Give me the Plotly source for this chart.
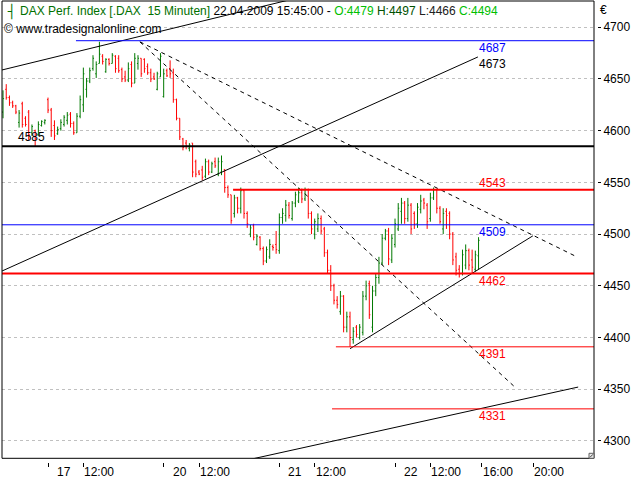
import plotly.graph_objects as go

# ---------------- data ----------------
# bar index 0 = first 15-minute bar of 17.04.2009 (36 bars per session)
bar_index = list(range(-14, 135))
opens = [4618, 4640, 4632, 4627, 4624, 4608, 4626, 4612, 4618, 4598, 4600, 4596, 4605, 4608,
         4630, 4620, 4605, 4597, 4602, 4606, 4610, 4616, 4607, 4598, 4614, 4625, 4640, 4648,
         4660, 4655, 4665, 4672, 4657, 4669, 4665, 4672, 4670, 4659, 4652, 4649, 4664, 4646,
         4665, 4670, 4669, 4662, 4656, 4652, 4640, 4652,
         4633, 4658, 4660, 4656, 4630, 4612, 4592, 4588, 4583, 4588, 4570, 4560, 4562, 4556,
         4570, 4560, 4570, 4558, 4560, 4562, 4545, 4538, 4520, 4535, 4525, 4542, 4520, 4500,
         4508, 4490, 4497, 4486, 4474, 4478, 4488, 4490,
         4484, 4516, 4518, 4528, 4515, 4530, 4532, 4540, 4534, 4543, 4520, 4500, 4505, 4515,
         4505, 4482, 4465, 4450, 4436, 4425, 4440, 4410, 4420, 4398, 4410, 4400, 4405, 4440,
         4452, 4410, 4445, 4458, 4472, 4496, 4503, 4475,
         4490, 4505, 4522, 4530, 4515, 4528, 4520, 4510, 4524, 4533, 4528, 4515, 4535, 4543,
         4525, 4505, 4522, 4520, 4500, 4478, 4466, 4462, 4470, 4484, 4475, 4466, 4479]
highs = [4639, 4645, 4634, 4629, 4625, 4620, 4628, 4614, 4620, 4606, 4601, 4609, 4610, 4611,
         4632, 4622, 4610, 4604, 4611, 4615, 4618, 4618, 4609, 4617, 4634, 4661, 4651, 4661,
         4673, 4667, 4686, 4674, 4670, 4670, 4675, 4673, 4673, 4661, 4658, 4666, 4667, 4675,
         4673, 4670, 4670, 4665, 4660, 4656, 4657, 4675,
         4660, 4660, 4668, 4660, 4631, 4612, 4593, 4591, 4588, 4588, 4572, 4562, 4566, 4573,
         4572, 4570, 4574, 4574, 4576, 4563, 4547, 4538, 4538, 4536, 4545, 4543, 4522, 4509,
         4510, 4500, 4498, 4488, 4488, 4495, 4490, 4503,
         4520, 4525, 4533, 4531, 4532, 4541, 4545, 4544, 4545, 4544, 4522, 4515, 4520, 4518,
         4507, 4485, 4470, 4452, 4440, 4445, 4441, 4425, 4425, 4410, 4412, 4413, 4445, 4455,
         4455, 4450, 4462, 4478, 4500, 4505, 4506, 4500,
         4515, 4530, 4535, 4532, 4535, 4530, 4522, 4530, 4538, 4535, 4530, 4540, 4545, 4544,
         4527, 4525, 4525, 4522, 4502, 4482, 4470, 4485, 4490, 4486, 4485, 4484, 4497]
lows = [4612, 4630, 4624, 4622, 4616, 4603, 4603, 4604, 4591, 4595, 4585, 4595, 4604, 4606,
        4617, 4594, 4591, 4596, 4600, 4604, 4606, 4603, 4596, 4598, 4612, 4618, 4632, 4646,
        4658, 4651, 4665, 4664, 4656, 4663, 4665, 4656, 4656, 4647, 4647, 4647, 4642, 4646,
        4659, 4652, 4656, 4654, 4647, 4649, 4639, 4652,
        4632, 4652, 4651, 4627, 4610, 4591, 4581, 4582, 4580, 4555, 4555, 4557, 4552, 4554,
        4557, 4559, 4564, 4556, 4557, 4540, 4535, 4510, 4516, 4520, 4520, 4515, 4506, 4497,
        4494, 4489, 4484, 4470, 4472, 4476, 4484, 4481,
        4481, 4510, 4512, 4515, 4513, 4526, 4530, 4530, 4532, 4515, 4500, 4495, 4502, 4500,
        4478, 4462, 4445, 4432, 4428, 4422, 4405, 4405, 4391, 4394, 4400, 4398, 4402, 4436,
        4418, 4405, 4440, 4452, 4470, 4494, 4470, 4472,
        4487, 4503, 4510, 4510, 4512, 4500, 4505, 4506, 4520, 4524, 4505, 4512, 4533, 4520,
        4510, 4500, 4505, 4495, 4470, 4460, 4458, 4460, 4466, 4465, 4462, 4464, 4466]
closes = [4631, 4632, 4627, 4624, 4618, 4617, 4606, 4606, 4596, 4604, 4592, 4606, 4609, 4610,
          4620, 4600, 4595, 4601, 4608, 4613, 4615, 4607, 4598, 4614, 4630, 4655, 4648, 4658,
          4670, 4664, 4674, 4667, 4669, 4665, 4673, 4660, 4658, 4650, 4649, 4660, 4646, 4670,
          4670, 4655, 4660, 4656, 4650, 4650, 4655, 4672,
          4655, 4653, 4655, 4630, 4612, 4594, 4584, 4585, 4586, 4560, 4558, 4558, 4555, 4570,
          4560, 4568, 4566, 4570, 4570, 4545, 4538, 4513, 4535, 4525, 4542, 4520, 4510, 4506,
          4497, 4498, 4486, 4474, 4485, 4490, 4487, 4485,
          4516, 4520, 4528, 4518, 4530, 4538, 4540, 4534, 4543, 4520, 4505, 4512, 4515, 4503,
          4482, 4465, 4450, 4436, 4432, 4440, 4410, 4420, 4400, 4406, 4403, 4410, 4440, 4450,
          4422, 4445, 4458, 4472, 4496, 4503, 4476, 4496,
          4510, 4525, 4530, 4515, 4528, 4505, 4510, 4526, 4532, 4530, 4512, 4535, 4543, 4525,
          4512, 4520, 4518, 4500, 4475, 4465, 4462, 4480, 4484, 4470, 4468, 4480, 4494]

# x-axis labels (bar index of tick, text)
day_ticks = [0, 36, 72, 108]
day_labels = ["17", "20", "21", "22"]
time_ticks = [11, 47, 83, 119, 135, 151]
time_labels = ["12:00", "12:00", "12:00", "12:00", "16:00", "20:00"]
price_ticks = [4300, 4350, 4400, 4450, 4500, 4550, 4600, 4650, 4700]

# horizontal levels: value, first bar index, colour, width
levels = [4687, 4585, 4543, 4509, 4462, 4391, 4331]
level_start = [8.7, -14.4, 57.6, -14.4, -14.4, 89.6, 88.4]
level_color = ["#0000ff", "#000000", "#ff0000", "#0000ff", "#ff0000", "#ff0000", "#ff0000"]
level_width = [1, 2, 2, 1, 2, 1, 1]
# labels next to the last bar: text, price, colour, vertical offset (px)
label_text = ["4687", "4673", "4543", "4509", "4462", "4391", "4331"]
label_price = [4687, 4671.3, 4543, 4509, 4462, 4391, 4331]
label_color = ["#0000ff", "#000000", "#ff0000", "#0000ff", "#ff0000", "#ff0000", "#ff0000"]
label_shift = [-7, -7, 7, -7, -8, -7, -7]

# trend lines: (bar index, price) pairs
trend_upper = ([-14.32, 75.0], [4658.7, 4726.4])
trend_rising = ([-14.32, 133.8], [4464.3, 4671.3])
trend_dash_a = ([28.6, 145.3], [4685.9, 4352.1])
trend_dash_b = ([28.6, 164.0], [4685.9, 4478.9])
trend_support = ([94.0, 150.9], [4389.2, 4498.3])
trend_bottom = ([50.0, 165.0], [4273.3, 4352.1])

# ---------------- figure ----------------
X_RANGE = [-14.32, 169.93]
Y_RANGE = [4283.2, 4725.4]
FONT = "Liberation Sans, Arial, sans-serif"

fig = go.Figure()

for (xs, ys), dash in [(trend_upper, "solid"), (trend_rising, "solid"), (trend_dash_a, "4px,4px"),
                       (trend_dash_b, "4px,4px"), (trend_support, "solid"), (trend_bottom, "solid")]:
    fig.add_trace(go.Scatter(x=xs, y=ys, mode="lines", line=dict(color="black", width=1, dash=dash),
                             hoverinfo="skip", showlegend=False))

for v, s, c, w in zip(levels, level_start, level_color, level_width):
    fig.add_trace(go.Scatter(x=[s, X_RANGE[1] + 1], y=[v, v], mode="lines",
                             line=dict(color=c, width=w), hoverinfo="skip", showlegend=False))

fig.add_trace(go.Ohlc(x=bar_index, open=opens, high=highs, low=lows, close=closes,
                      increasing=dict(line=dict(color="#007800", width=1)),
                      decreasing=dict(line=dict(color="#ff0000", width=1)),
                      tickwidth=0.32, showlegend=False))

annotations = []
for t, p, c, s in zip(label_text, label_price, label_color, label_shift):
    annotations.append(dict(x=bar_index[-1], y=p, xref="x", yref="y", text=t, showarrow=False,
                            xanchor="left", yanchor="middle", xshift=-2, yshift=s,
                            font=dict(family=FONT, size=12, color=c)))
annotations.append(dict(x=-9.3, y=4585, xref="x", yref="y", text="4585", showarrow=False,
                        xanchor="left", yanchor="middle", xshift=-2, yshift=9,
                        font=dict(family=FONT, size=12, color="#000000")))
for tv, tt in zip(day_ticks, day_labels):
    annotations.append(dict(x=tv, y=0, xref="x", yref="paper", text=tt, showarrow=False,
                            xanchor="left", yanchor="middle", xshift=7, yshift=-10,
                            font=dict(family=FONT, size=12, color="black")))
for tv, tt in zip(time_ticks, time_labels):
    annotations.append(dict(x=tv, y=0, xref="x", yref="paper", text=tt, showarrow=False,
                            xanchor="left", yanchor="middle", xshift=-1, yshift=-10,
                            font=dict(family=FONT, size=12, color="black")))

header = ("<span style='color:#007000'>DAX Perf. Index [.DAX\u00a0 15 Minuten]</span> "
          "22.04.2009 15:45:00 - "
          f"<span style='color:#00c000'>O:{opens[-1]}</span> "
          f"<span style='color:#005000'>H:{highs[-1]}</span> "
          f"<span style='color:#202020'>L:{lows[-1]}</span> "
          f"<span style='color:#00c000'>C:{closes[-1]}</span>")
annotations.append(dict(x=0, y=1, xref="paper", yref="paper", text=header, showarrow=False,
                        xanchor="left", yanchor="middle", xshift=16, yshift=-10,
                        font=dict(family=FONT, size=12, color="black")))
annotations.append(dict(x=0, y=1, xref="paper", yref="paper", text="┤", showarrow=False,
                        xanchor="left", yanchor="middle", xshift=3, yshift=-10,
                        font=dict(family="DejaVu Sans", size=13, color="#007000")))
annotations.append(dict(x=0, y=1, xref="paper", yref="paper", text="© www.tradesignalonline.com",
                        showarrow=False, xanchor="left", yanchor="middle", xshift=0, yshift=-28,
                        font=dict(family=FONT, size=12, color="black")))
annotations.append(dict(x=1, y=1, xref="paper", yref="paper", text="€", showarrow=False,
                        xanchor="left", yanchor="middle", xshift=1, yshift=-9,
                        font=dict(family=FONT, size=12, color="black")))

shapes = [
    dict(type="rect", xref="x domain", yref="y domain", x0=0, x1=1, y0=0, y1=1,
         line=dict(color="black", width=1), layer="above"),
    # small resize grip in the lower right corner of the plot frame
    dict(type="rect", xref="x domain", yref="y domain", xsizemode="pixel", ysizemode="pixel",
         xanchor=1, yanchor=0, x0=-5, x1=0, y0=0, y1=5,
         line=dict(color="#606060", width=1), fillcolor="#e8e8e8", layer="above"),
    dict(type="line", xref="x domain", yref="y domain", xsizemode="pixel", ysizemode="pixel",
         xanchor=1, yanchor=0, x0=-4, x1=-1, y0=1, y1=4,
         line=dict(color="#404040", width=1), layer="above"),
]

fig.update_layout(
    width=640, height=480,
    margin=dict(l=2, r=43, t=1, b=18, pad=0, autoexpand=False),
    paper_bgcolor="white", plot_bgcolor="white",
    showlegend=False,
    annotations=annotations,
    shapes=shapes,
    xaxis=dict(domain=[0, 592 / 595], range=X_RANGE, anchor="free", position=0,
               showgrid=False, zeroline=False, showline=False, automargin=False,
               ticks="outside", ticklen=4, tickcolor="black", tickwidth=1,
               tickvals=day_ticks + time_ticks, showticklabels=False,
               rangeslider=dict(visible=False), fixedrange=True),
    yaxis=dict(domain=[3.7 / 461, 1], range=Y_RANGE, side="right", anchor="free", position=1,
               showgrid=True, gridcolor="#c0c0c0", griddash="dot", gridwidth=1, automargin=False,
               zeroline=False, showline=False, ticks="outside", ticklen=3,
               tickcolor="black", tickwidth=1, tickvals=price_ticks,
               tickfont=dict(family=FONT, size=12, color="black"), fixedrange=True),
)

fig.write_html("out.html", config={"displayModeBar": False},
               post_script="document.body.style.margin='0px';document.body.style.overflow='hidden';")
